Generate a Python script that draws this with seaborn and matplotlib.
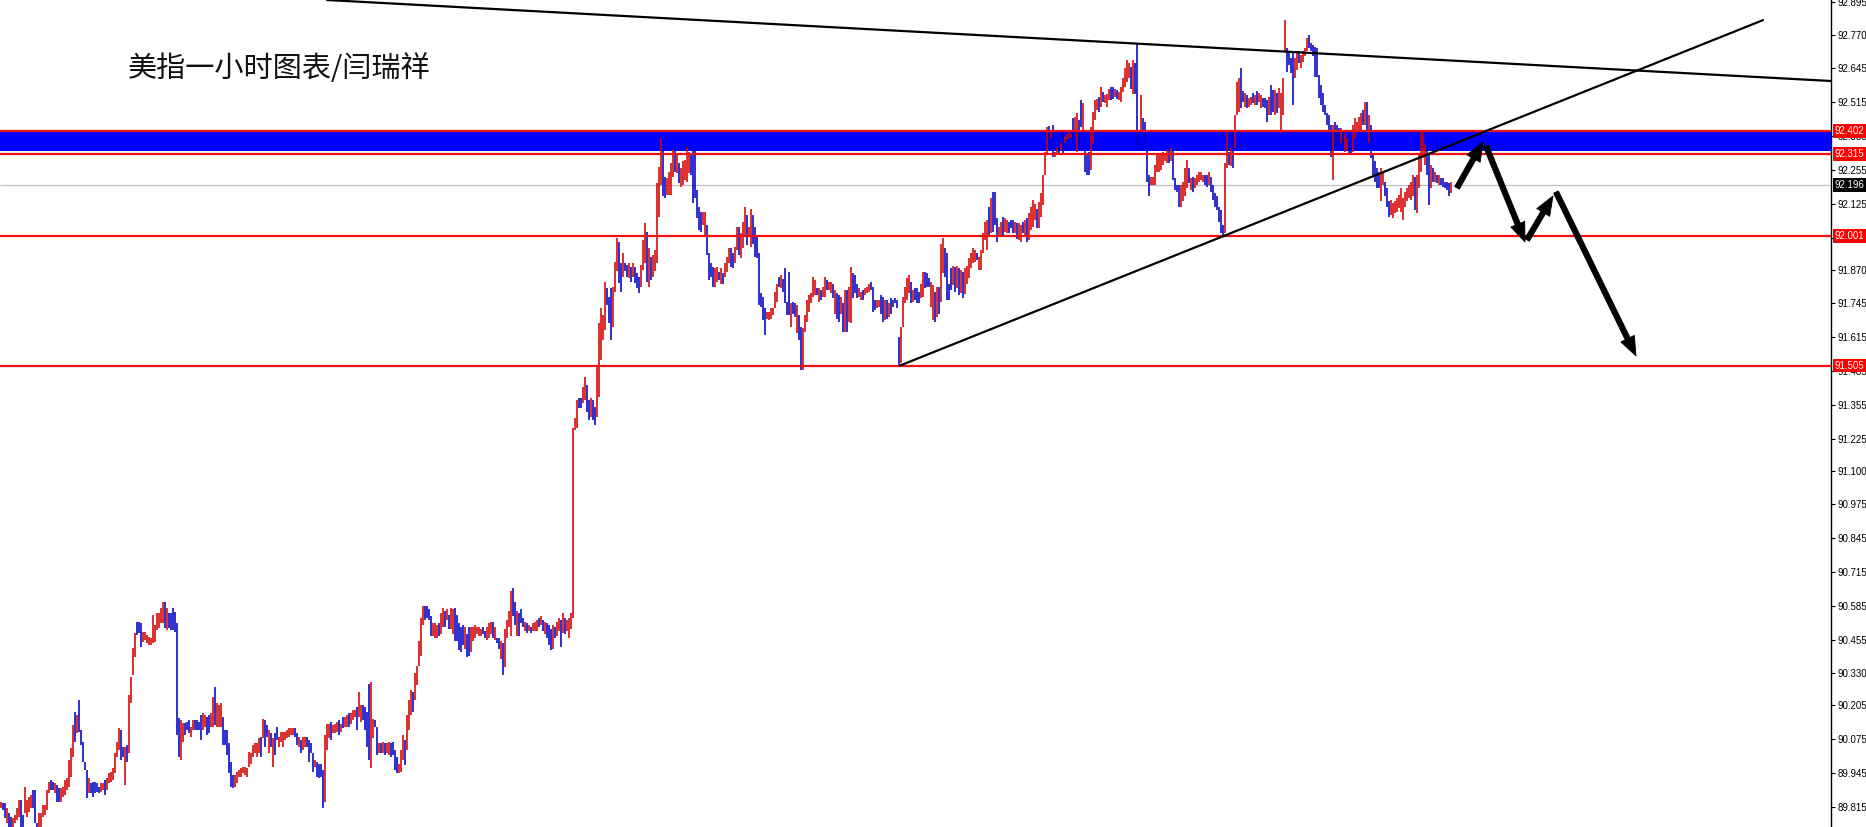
import matplotlib
matplotlib.use("Agg")
import matplotlib.pyplot as plt
import matplotlib.transforms as mtransforms
import pandas as pd
import seaborn as sns

# =========================
# DATA: hourly bars
# dir: r = up bar (red), b = down bar (blue)
# =========================

seg_a_start = 0
seg_a_dir = ("rbbrbbrrrr" "bbrrrrbbbr" "rrrrrbbrbb" "rrrrrrrbrb" "bbbbrbbbbb"
             "rrbrrrrrrr" "bbrbrrrrbb" "brrrrrrrrr" "rrbrbbbbbb" "rrbbbrrbbb")
seg_a_high = [89.836, 89.830, 89.830, 89.810, 89.791, 89.779, 89.772, 89.785, 89.810, 89.842,
              89.842, 89.785, 89.893, 89.842, 89.855, 89.862, 89.881, 89.881, 89.753, 89.791,
              89.791, 89.823, 89.823, 89.881, 89.913, 89.919, 89.913, 89.906, 89.900, 89.887,
              89.887, 89.893, 89.919, 89.925, 89.995, 90.040, 90.129, 90.180, 90.168, 90.225,
              90.110, 90.066, 89.989, 89.957, 89.925, 89.906, 89.913, 89.913, 89.906, 89.893,
              89.906, 89.906, 89.919, 89.925, 89.944, 89.951, 89.964, 90.021, 90.066, 90.117,
              90.110, 90.047, 90.047, 90.053, 90.244, 90.314, 90.423, 90.480, 90.525, 90.525,
              90.519, 90.487, 90.487, 90.474, 90.468, 90.461, 90.550, 90.512, 90.557, 90.557,
              90.576, 90.602, 90.602, 90.576, 90.557, 90.557, 90.576, 90.563, 90.519, 90.155,
              90.149, 90.136, 90.136, 90.142, 90.149, 90.123, 90.149, 90.149, 90.149, 90.142]
seg_a_low = [89.810, 89.804, 89.772, 89.753, 89.740, 89.740, 89.735, 89.753, 89.766, 89.779,
             89.735, 89.735, 89.791, 89.779, 89.798, 89.810, 89.810, 89.753, 89.735, 89.735,
             89.735, 89.779, 89.785, 89.804, 89.868, 89.881, 89.881, 89.868, 89.836, 89.836,
             89.836, 89.855, 89.862, 89.881, 89.893, 89.932, 90.008, 90.066, 90.098, 90.104,
             90.053, 89.989, 89.957, 89.849, 89.868, 89.868, 89.855, 89.868, 89.874, 89.868,
             89.874, 89.881, 89.862, 89.881, 89.906, 89.913, 89.919, 89.944, 90.008, 90.034,
             89.995, 90.008, 89.900, 89.989, 90.021, 90.212, 90.321, 90.391, 90.474, 90.480,
             90.429, 90.448, 90.455, 90.442, 90.436, 90.436, 90.442, 90.448, 90.493, 90.499,
             90.519, 90.519, 90.499, 90.493, 90.499, 90.493, 90.493, 90.487, 90.091, 90.008,
             89.995, 90.066, 90.091, 90.110, 90.098, 90.085, 90.110, 90.110, 90.110, 90.110]

seg_b_start = 100
seg_b_dir = ("brrbbrrbrr" "rbbbbbbrrr" "rrrrrrrrrr" "brbbrbrbbr" "rrrrrrrbbr"
             "brrbbbbrbb" "bbrrrbrrrb" "rbrrbrrrbr" "rbbbbrrbbr" "brbrrbbbbr")
seg_b_high = [90.167, 90.174, 90.167, 90.161, 90.167, 90.174, 90.237, 90.276, 90.212, 90.206,
              90.212, 90.161, 90.110, 90.110, 90.059, 89.989, 89.938, 89.938, 89.950, 89.957,
              89.963, 89.970, 89.970, 89.963, 90.027, 90.021, 90.052, 90.059, 90.059, 90.078,
              90.084, 90.154, 90.148, 90.129, 90.110, 90.097, 90.078, 90.097, 90.123, 90.084,
              90.103, 90.103, 90.103, 90.110, 90.116, 90.116, 90.116, 90.116, 90.097, 90.084,
              90.072, 90.084, 90.084, 90.084, 90.072, 90.059, 90.021, 89.995, 89.989, 89.982,
              89.982, 89.957, 90.091, 90.135, 90.135, 90.142, 90.129, 90.135, 90.142, 90.148,
              90.135, 90.161, 90.161, 90.167, 90.174, 90.174, 90.186, 90.186, 90.199, 90.257,
              90.206, 90.206, 90.199, 90.180, 90.288, 90.295, 90.154, 90.148, 90.123, 90.059,
              90.059, 90.065, 90.059, 90.059, 90.065, 90.059, 90.065, 90.033, 90.008, 89.982]
seg_b_low = [90.071, 90.110, 90.123, 90.091, 90.097, 90.123, 90.123, 90.129, 90.123, 90.123,
             90.123, 90.052, 90.052, 90.014, 89.944, 89.893, 89.887, 89.893, 89.906, 89.931,
             89.931, 89.944, 89.938, 89.931, 89.970, 89.982, 90.008, 90.021, 90.008, 90.021,
             90.008, 90.078, 90.046, 90.084, 90.021, 90.046, 89.970, 90.014, 90.071, 90.046,
             90.065, 90.046, 90.071, 90.078, 90.084, 90.091, 90.091, 90.084, 90.052, 90.046,
             90.021, 90.033, 90.046, 90.046, 89.989, 90.021, 89.950, 89.970, 89.931, 89.925,
             89.931, 89.810, 89.836, 90.033, 90.078, 90.071, 90.097, 90.097, 90.103, 90.091,
             90.103, 90.116, 90.123, 90.123, 90.123, 90.135, 90.148, 90.161, 90.110, 90.161,
             90.142, 90.148, 90.110, 90.046, 89.995, 89.963, 90.078, 90.123, 90.014, 90.021,
             90.021, 90.021, 90.014, 90.021, 90.014, 90.008, 90.014, 89.957, 89.944, 89.944]

seg_c_start = 200
seg_c_dir = "rrbrrrbrrrr"
seg_c_high = [90.034, 90.091, 90.072, 90.168, 90.225, 90.264, 90.256, 90.329, 90.355, 90.451, 90.539]
seg_c_low = [89.950, 89.996, 89.977, 90.034, 90.111, 90.168, 90.179, 90.225, 90.283, 90.355, 90.394]

seg_d_start = 211
seg_d_dir = ("rbbbbrrrbr" "rbrbrrbbbb" "brbbrrrrrr" "bbrrrbrbbr" "brrrrbbrbb"
             "brbrbrrrbr" "brbbbrbrrb" "rbrrr")
seg_d_high = [90.586, 90.586, 90.586, 90.572, 90.545, 90.518, 90.518, 90.511, 90.518, 90.559,
              90.579, 90.565, 90.572, 90.552, 90.579, 90.572, 90.579, 90.552, 90.518, 90.504,
              90.511, 90.504, 90.477, 90.504, 90.504, 90.504, 90.511, 90.504, 90.504, 90.497,
              90.504, 90.490, 90.504, 90.518, 90.524, 90.524, 90.504, 90.463, 90.463, 90.449,
              90.442, 90.497, 90.531, 90.565, 90.641, 90.654, 90.600, 90.565, 90.559, 90.572,
              90.538, 90.524, 90.518, 90.511, 90.504, 90.518, 90.524, 90.531, 90.538, 90.545,
              90.531, 90.524, 90.518, 90.511, 90.497, 90.511, 90.504, 90.524, 90.538, 90.531,
              90.559, 90.538, 90.531, 90.538, 90.559]
seg_d_low = [90.511, 90.531, 90.538, 90.531, 90.470, 90.470, 90.463, 90.463, 90.470, 90.477,
             90.504, 90.504, 90.531, 90.497, 90.497, 90.477, 90.449, 90.449, 90.415, 90.408,
             90.436, 90.422, 90.388, 90.395, 90.408, 90.449, 90.463, 90.477, 90.470, 90.470,
             90.477, 90.463, 90.456, 90.463, 90.477, 90.463, 90.456, 90.442, 90.422, 90.381,
             90.319, 90.353, 90.463, 90.504, 90.470, 90.545, 90.511, 90.470, 90.470, 90.518,
             90.504, 90.490, 90.483, 90.490, 90.483, 90.490, 90.490, 90.490, 90.504, 90.511,
             90.490, 90.477, 90.463, 90.436, 90.415, 90.422, 90.463, 90.470, 90.490, 90.429,
             90.483, 90.477, 90.490, 90.463, 90.497]

seg_e_start = 286
seg_e_dir = ("rrrbbrrbbr" "bbrrrrrbbb" "rrrbbrbbrb" "rbbbrrrbrb" "rrrrrbbrrr"
             "rbrbrrrrrb" "bbbb")
seg_e_high = [91.265, 91.303, 91.373, 91.380, 91.380, 91.424, 91.463, 91.431, 91.373, 91.380,
              91.373, 91.348, 91.501, 91.667, 91.724, 91.699, 91.826, 91.801, 91.769, 91.801,
              91.807, 91.903, 91.992, 91.979, 91.896, 91.935, 91.896, 91.890, 91.896, 91.884,
              91.896, 91.884, 91.858, 91.845, 91.890, 91.986, 92.050, 92.018, 91.954, 91.922,
              91.928, 91.947, 92.203, 92.266, 92.375, 92.343, 92.228, 92.222, 92.247, 92.279,
              92.330, 92.343, 92.317, 92.279, 92.260, 92.286, 92.292, 92.343, 92.324, 92.317,
              92.330, 92.337, 92.177, 92.113]
seg_e_low = [90.540, 91.259, 91.265, 91.342, 91.342, 91.361, 91.373, 91.329, 91.297, 91.310,
             91.297, 91.278, 91.310, 91.386, 91.527, 91.603, 91.641, 91.737, 91.667, 91.603,
             91.654, 91.788, 91.865, 91.820, 91.788, 91.845, 91.865, 91.845, 91.839, 91.826,
             91.845, 91.820, 91.801, 91.782, 91.807, 91.871, 91.896, 91.826, 91.807, 91.833,
             91.845, 91.865, 91.896, 92.075, 92.196, 92.152, 92.145, 92.158, 92.158, 92.158,
             92.228, 92.247, 92.241, 92.203, 92.190, 92.196, 92.215, 92.209, 92.241, 92.235,
             92.126, 92.145, 92.069, 92.024]

seg_f_start = 350
seg_f_dir = ("brrbbbbrrb" "rbrrrbbrrb" "rrrbrrbbbb" "bbbrrrrrrb" "rbbbbrbbrb"
             "brrrrrrrbr" "brrbrrbrbb" "rbrbrrbbbr" "rbrrrbbbrr" "bbrbrbbbbb")
seg_f_high = [92.094, 92.094, 92.094, 92.043, 91.934, 91.896, 91.883, 91.877, 91.883, 91.864,
              91.877, 91.858, 91.896, 91.921, 91.953, 91.953, 91.934, 91.960, 92.036, 92.036,
              92.011, 92.055, 92.113, 92.081, 92.036, 92.106, 92.081, 92.036, 91.998, 91.934,
              91.781, 91.768, 91.724, 91.711, 91.711, 91.724, 91.724, 91.787, 91.819, 91.845,
              91.851, 91.838, 91.877, 91.749, 91.864, 91.743, 91.749, 91.743, 91.736, 91.698,
              91.653, 91.647, 91.698, 91.755, 91.775, 91.781, 91.845, 91.832, 91.800, 91.800,
              91.794, 91.807, 91.845, 91.832, 91.826, 91.826, 91.819, 91.794, 91.781, 91.775,
              91.768, 91.743, 91.794, 91.794, 91.807, 91.883, 91.858, 91.851, 91.819, 91.800,
              91.787, 91.794, 91.800, 91.807, 91.819, 91.826, 91.807, 91.755, 91.755, 91.755,
              91.775, 91.768, 91.755, 91.755, 91.743, 91.762, 91.755, 91.762, 91.755, 91.615]
seg_f_low = [92.017, 92.043, 92.004, 91.928, 91.832, 91.845, 91.807, 91.807, 91.826, 91.832,
             91.819, 91.819, 91.845, 91.864, 91.896, 91.883, 91.877, 91.896, 91.947, 91.928,
             91.915, 91.953, 91.998, 91.966, 91.998, 91.960, 91.972, 91.921, 91.915, 91.736,
             91.730, 91.679, 91.622, 91.685, 91.679, 91.685, 91.698, 91.724, 91.749, 91.807,
             91.800, 91.787, 91.743, 91.698, 91.698, 91.653, 91.704, 91.692, 91.628, 91.603,
             91.488, 91.488, 91.634, 91.673, 91.711, 91.743, 91.768, 91.775, 91.775, 91.749,
             91.756, 91.768, 91.768, 91.794, 91.794, 91.781, 91.762, 91.704, 91.685, 91.673,
             91.704, 91.634, 91.634, 91.634, 91.673, 91.666, 91.762, 91.781, 91.762, 91.768,
             91.756, 91.756, 91.775, 91.781, 91.787, 91.794, 91.711, 91.717, 91.724, 91.730,
             91.704, 91.673, 91.679, 91.685, 91.692, 91.704, 91.730, 91.743, 91.724, 91.500]

seg_g_start = 450
seg_g_dir = "rrrrrbrbbb" "rrbbbrrbrb" "rrbbb"
seg_g_high = [91.654, 91.768, 91.807, 91.839, 91.851, 91.826, 91.794, 91.800, 91.800, 91.787,
              91.819, 91.864, 91.864, 91.858, 91.839, 91.826, 91.813, 91.787, 91.807, 91.807,
              91.972, 91.992, 91.953, 91.934, 91.819]
seg_g_low = [91.513, 91.654, 91.743, 91.756, 91.781, 91.743, 91.749, 91.756, 91.743, 91.743,
             91.762, 91.768, 91.800, 91.807, 91.807, 91.730, 91.679, 91.673, 91.692, 91.704,
             91.749, 91.858, 91.845, 91.756, 91.756]

seg_h_start = 475
seg_h_dir = ("brbrbrbrrr" "rrrbrrrrrb" "rbbbrrbrrb" "bbrbrrbrbr" "rrrbrrrrrb"
             "rbrrbrbrrr" "rbrrbbrbbb" "rrrrbrbrrr" "bbrbrrrrrr" "brbbb")
seg_h_high = [91.879, 91.886, 91.883, 91.886, 91.879, 91.871, 91.863, 91.879, 91.886, 91.917,
              91.934, 91.953, 91.947, 91.934, 91.921, 91.947, 92.011, 92.055, 92.062, 92.113,
              92.145, 92.170, 92.170, 92.068, 92.036, 92.055, 92.074, 92.068, 92.062, 92.055,
              92.062, 92.062, 92.055, 92.049, 92.049, 92.042, 92.055, 92.062, 92.068, 92.087,
              92.113, 92.138, 92.125, 92.106, 92.132, 92.164, 92.234, 92.323, 92.419, 92.421,
              92.406, 92.425, 92.323, 92.342, 92.355, 92.355, 92.406, 92.380, 92.393, 92.400,
              92.393, 92.451, 92.457, 92.470, 92.444, 92.521, 92.508, 92.336, 92.317, 92.323,
              92.419, 92.476, 92.521, 92.527, 92.534, 92.572, 92.553, 92.540, 92.546, 92.565,
              92.572, 92.572, 92.565, 92.559, 92.553, 92.572, 92.604, 92.642, 92.674, 92.661,
              92.648, 92.674, 92.661, 92.735, 92.406]
seg_h_low = [91.794, 91.813, 91.787, 91.802, 91.775, 91.783, 91.764, 91.779, 91.817, 91.840,
             91.877, 91.896, 91.902, 91.909, 91.870, 91.870, 91.934, 91.985, 91.947, 91.998,
             92.011, 92.017, 92.043, 91.979, 91.998, 91.998, 92.004, 92.017, 92.011, 92.011,
             92.030, 92.011, 92.011, 91.991, 91.985, 91.979, 92.011, 91.998, 91.979, 91.985,
             92.023, 92.036, 92.062, 92.030, 92.030, 92.074, 92.119, 92.234, 92.317, 92.368,
             92.374, 92.304, 92.304, 92.310, 92.317, 92.329, 92.317, 92.355, 92.368, 92.374,
             92.374, 92.368, 92.406, 92.323, 92.330, 92.419, 92.406, 92.247, 92.234, 92.234,
             92.253, 92.355, 92.444, 92.483, 92.476, 92.495, 92.514, 92.508, 92.495, 92.521,
             92.521, 92.527, 92.534, 92.527, 92.521, 92.514, 92.553, 92.572, 92.591, 92.604,
             92.565, 92.546, 92.546, 92.349, 92.342]

seg_i_start = 570
seg_i_dir = ("rbbbbrrrrr" "rrrrbrbbbb" "rrrrbrbrrr" "rrbbrbbbbb" "bbrrbrbrrr"
             "bbrbrrbrbr" "rbbbrbbrbr" "rrrbbbbrrb" "rrrrbbbbbb" "bbbbbbrbbb"
             "rbrrbbrrrr" "rbrbrbbbbb" "rrbbbrrrrr" "rrrrrrrbrr" "rrrbbrbrbr" "bbbbbr")
seg_i_high = [92.541, 92.452, 92.439, 92.337, 92.235, 92.228, 92.228, 92.273, 92.311, 92.311,
              92.318, 92.324, 92.318, 92.330, 92.330, 92.337, 92.330, 92.222, 92.196, 92.196,
              92.196, 92.209, 92.260, 92.292, 92.260, 92.222, 92.228, 92.222, 92.235, 92.247,
              92.247, 92.235, 92.235, 92.235, 92.247, 92.228, 92.196, 92.165, 92.152, 92.113,
              92.101, 92.043, 92.279, 92.400, 92.324, 92.337, 92.400, 92.464, 92.592, 92.605,
              92.643, 92.554, 92.547, 92.541, 92.528, 92.534, 92.547, 92.541, 92.554, 92.547,
              92.541, 92.528, 92.528, 92.522, 92.534, 92.579, 92.560, 92.560, 92.547, 92.566,
              92.547, 92.605, 92.828, 92.719, 92.707, 92.681, 92.707, 92.681, 92.707, 92.707,
              92.694, 92.707, 92.719, 92.758, 92.770, 92.739, 92.732, 92.726, 92.719, 92.617,
              92.579, 92.547, 92.503, 92.471, 92.464, 92.426, 92.426, 92.439, 92.426, 92.413,
              92.413, 92.400, 92.394, 92.375, 92.356, 92.349, 92.426, 92.452, 92.439, 92.458,
              92.471, 92.483, 92.515, 92.515, 92.464, 92.426, 92.311, 92.286, 92.260, 92.247,
              92.260, 92.247, 92.209, 92.184, 92.133, 92.139, 92.126, 92.133, 92.145, 92.158,
              92.184, 92.145, 92.171, 92.184, 92.196, 92.209, 92.235, 92.228, 92.235, 92.311,
              92.400, 92.407, 92.349, 92.337, 92.311, 92.273, 92.260, 92.247, 92.235, 92.235,
              92.222, 92.222, 92.209, 92.209, 92.203, 92.209]
seg_i_low = [92.400, 92.407, 92.337, 92.209, 92.152, 92.196, 92.196, 92.196, 92.247, 92.247,
             92.254, 92.273, 92.286, 92.279, 92.279, 92.286, 92.216, 92.177, 92.171, 92.113,
             92.113, 92.133, 92.152, 92.184, 92.203, 92.177, 92.171, 92.184, 92.196, 92.209,
             92.216, 92.209, 92.196, 92.190, 92.196, 92.171, 92.139, 92.113, 92.101, 92.056,
             92.011, 92.005, 92.011, 92.260, 92.273, 92.267, 92.260, 92.337, 92.464, 92.477,
             92.490, 92.515, 92.496, 92.490, 92.496, 92.503, 92.509, 92.503, 92.503, 92.515,
             92.490, 92.496, 92.490, 92.439, 92.464, 92.464, 92.477, 92.464, 92.471, 92.490,
             92.394, 92.464, 92.707, 92.630, 92.656, 92.624, 92.503, 92.605, 92.637, 92.662,
             92.643, 92.668, 92.688, 92.707, 92.719, 92.707, 92.688, 92.611, 92.611, 92.528,
             92.503, 92.477, 92.464, 92.426, 92.407, 92.305, 92.216, 92.337, 92.349, 92.343,
             92.356, 92.349, 92.324, 92.330, 92.318, 92.318, 92.324, 92.375, 92.400, 92.407,
             92.407, 92.426, 92.426, 92.400, 92.362, 92.298, 92.235, 92.209, 92.184, 92.184,
             92.133, 92.196, 92.152, 92.113, 92.075, 92.082, 92.069, 92.088, 92.094, 92.107,
             92.094, 92.062, 92.113, 92.133, 92.145, 92.139, 92.152, 92.101, 92.088, 92.184,
             92.247, 92.298, 92.273, 92.235, 92.120, 92.184, 92.209, 92.209, 92.203, 92.196,
             92.196, 92.190, 92.184, 92.177, 92.152, 92.165]

# =========================
# LEVELS, TRENDLINES, ARROWS
# =========================

band_top = 92.400
band_bottom = 92.326
red_levels = [92.402, 92.315, 92.001, 91.505]
last_price = 92.196

tick_values = [92.895, 92.770, 92.645, 92.515, 92.385, 92.255, 92.125, 91.995, 91.870,
               91.745, 91.615, 91.485, 91.355, 91.225, 91.100, 90.975, 90.845, 90.715,
               90.585, 90.455, 90.330, 90.205, 90.075, 89.945, 89.815]
tag_values = [92.402, 92.315, 92.196, 92.001, 91.505]
tag_colors = ["#ff0000", "#ff0000", "#000000", "#ff0000", "#ff0000"]

down_line_bar = [163, 915]
down_line_price = [92.904, 92.594]
up_line_bar = [449.5, 881]
up_line_price = [91.505, 92.827]

arrow_tail_bar = [728, 742.5, 763, 777.5]
arrow_tail_price = [92.185, 92.345, 91.986, 92.169]
arrow_head_bar = [741, 762, 776, 817.5]
arrow_head_price = [92.361, 91.978, 92.154, 91.542]

title = "美指一小时图表/闫瑞祥"

# =========================
# BUILD LONG TABLE FOR SEABORN
# =========================

segments = [
    (seg_a_start, seg_a_dir, seg_a_high, seg_a_low),
    (seg_b_start, seg_b_dir, seg_b_high, seg_b_low),
    (seg_c_start, seg_c_dir, seg_c_high, seg_c_low),
    (seg_d_start, seg_d_dir, seg_d_high, seg_d_low),
    (seg_e_start, seg_e_dir, seg_e_high, seg_e_low),
    (seg_f_start, seg_f_dir, seg_f_high, seg_f_low),
    (seg_g_start, seg_g_dir, seg_g_high, seg_g_low),
    (seg_h_start, seg_h_dir, seg_h_high, seg_h_low),
    (seg_i_start, seg_i_dir, seg_i_high, seg_i_low),
]

rows = []
for start, dirs, highs, lows in segments:
    n = min(len(dirs), len(highs), len(lows))
    for k in range(n):
        side = "up" if dirs[k] == "r" else "down"
        rows.append((start + k, highs[k], side))
        rows.append((start + k, lows[k], side))
bars = pd.DataFrame(rows, columns=["bar", "price", "side"])

# =========================
# PLOT
# =========================

sns.set_style("white")
plt.rcParams["font.family"] = ["Liberation Sans", "DejaVu Sans"]

fig = plt.figure(figsize=(18.66, 8.27), dpi=100)
ax = fig.add_axes([0, 0, 1831 / 1866, 1])

ax.axhspan(band_bottom, band_top, color="#0000ff", lw=0, zorder=1)
ax.axhline(last_price, color="#c0c0c0", lw=0.9, zorder=1.5)

sns.lineplot(data=bars, x="bar", y="price", hue="side", units="bar",
             estimator=None, sort=False, legend=False,
             palette={"up": "#d40000", "down": "#0000c4"},
             linewidth=1.15, ax=ax)
for line in ax.lines:
    line.set_solid_capstyle("butt")

for level in red_levels:
    ax.axhline(level, color="#ee1111", lw=1.6, zorder=3)

ax.plot(down_line_bar, down_line_price, color="black", lw=1.6, zorder=4)
ax.plot(up_line_bar, up_line_price, color="black", lw=1.6, zorder=4)

for tb, tp, hb, hp in zip(arrow_tail_bar, arrow_tail_price, arrow_head_bar, arrow_head_price):
    ax.annotate("", xy=(hb, hp), xytext=(tb, tp),
                arrowprops=dict(arrowstyle="simple,head_length=1.15,head_width=0.9,tail_width=0.32",
                                fc="black", ec="black", lw=0.6,
                                mutation_scale=12, shrinkA=0, shrinkB=0),
                zorder=5)

ax.set_xlim(-0.5, 915)
ax.set_ylim(89.739, 92.904)
ax.set_xlabel("")
ax.set_ylabel("")
ax.set_xticks([])

ax.yaxis.tick_right()
ax.set_yticks(tick_values)
ax.set_yticklabels([f"{v:.3f}" for v in tick_values])
ax.tick_params(axis="y", length=3, width=0.8, pad=2, labelsize=7, colors="black")

for side in ["left", "top", "bottom"]:
    ax.spines[side].set_visible(False)
ax.spines["right"].set_color("black")
ax.spines["right"].set_linewidth(1.0)

trans = mtransforms.blended_transform_factory(ax.transAxes, ax.transData)
for value, face in zip(tag_values, tag_colors):
    ax.text(1.0 + 3.5 / 1831, value, f"{value:.3f}", transform=trans,
            ha="left", va="center", fontsize=7, color="white",
            bbox=dict(boxstyle="square,pad=0.2", fc=face, ec="none"),
            clip_on=False, zorder=6)

fig.text(128 / 1866, 1 - 69.5 / 827, title, fontsize=21,
         family=["Noto Sans CJK SC", "DejaVu Sans"],
         ha="left", va="center", color="#111111")

fig.savefig("out.png", dpi=100)
